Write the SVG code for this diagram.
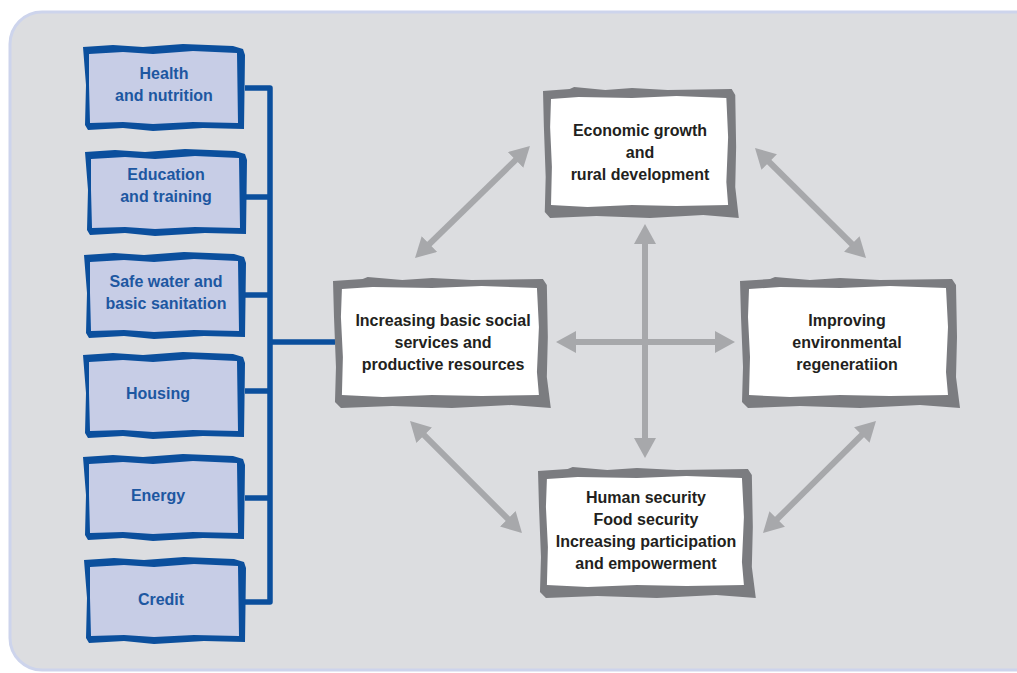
<svg xmlns="http://www.w3.org/2000/svg" width="1017" height="673" viewBox="0 0 1017 673">
<style>
.bt{font-family:"Liberation Sans",Arial,sans-serif;font-weight:bold;font-size:16px;fill:#1d57a1;text-anchor:middle}
.kt{font-family:"Liberation Sans",Arial,sans-serif;font-weight:bold;font-size:16px;fill:#231f20;text-anchor:middle}
.bo{fill:#0b4f9d}
.bi{fill:#c7cde6}
.go{fill:#7b7c80}
.gi{fill:#ffffff}
.tree{stroke:#0b4f9d;stroke-width:5.5;fill:none;stroke-linejoin:round}
.arr{stroke:#a7a8ab;stroke-width:6;fill:none;marker-start:url(#ah);marker-end:url(#ah)}
</style>
<defs>
<marker id="ah" viewBox="0 0 20 22" refX="10" refY="11" markerWidth="20" markerHeight="22" markerUnits="userSpaceOnUse" orient="auto-start-reverse">
<path d="M0,0 L20,11 L0,22 Z" fill="#a7a8ab"/>
</marker>
<g id="bbox">
<path class="bo" d="M0,2 L30,0 L60,2 L100,-1 L150,1 L160,4 L162,10 L161,84 L120,83 L70,86 L40,83 L5,85 L2,80 L3,40 Z"/>
<path class="bi" d="M6,9 L40,7 L70,9 L110,6 L154,8 L155,78 L110,77 L70,79 L40,77 L7,78 L6,40 Z"/>
</g>
<g id="wbox">
<path class="go" d="M0,4 L30,2 L35,0 L70,3 L100,1 L140,3 L212,2 L216,8 L217,60 L216,100 L220,131 L180,128 L120,131 L60,129 L8,131 L2,125 L3,90 L1,40 Z"/>
<path class="gi" d="M9,12 L40,10 L100,11 L150,9 L206,11 L208,50 L206,95 L208,118 L150,119 L100,118 L50,120 L9,118 L10,80 L8,40 Z"/>
</g>
</defs>
<rect x="10" y="12" width="1040" height="658" rx="32" fill="#dcdde0" stroke="#cdd4ec" stroke-width="3"/>
<g id="connectors">
<path class="tree" d="M245,88 L270,88 L270,602 L245,602 M245,197 L270,197 M245,295 L270,295 M245,391 L270,391 M245,498 L270,498 M270,342 L335,342"/>
<line class="arr" x1="522.8" y1="153" x2="422.2" y2="251"/>
<line class="arr" x1="762.1" y1="155" x2="858.9" y2="251"/>
<line class="arr" x1="566" y1="342" x2="725" y2="342"/>
<line class="arr" x1="645" y1="234" x2="645" y2="448"/>
<line class="arr" x1="417.1" y1="428.1" x2="514.9" y2="525.9"/>
<line class="arr" x1="868.9" y1="428" x2="770.1" y2="526"/>
</g>
<g id="health"><use href="#bbox" x="83" y="45"/><text class="bt" x="164" y="79">Health</text><text class="bt" x="164" y="101">and nutrition</text></g>
<g id="education"><use href="#bbox" x="85" y="150"/><text class="bt" x="166" y="180">Education</text><text class="bt" x="166" y="202">and training</text></g>
<g id="water"><use href="#bbox" x="84" y="253"/><text class="bt" x="166" y="287">Safe water and</text><text class="bt" x="166" y="309">basic sanitation</text></g>
<g id="housing"><use href="#bbox" x="83" y="353"/><text class="bt" x="158" y="399">Housing</text></g>
<g id="energy"><use href="#bbox" x="83" y="455"/><text class="bt" x="158" y="501">Energy</text></g>
<g id="credit"><use href="#bbox" x="84" y="558"/><text class="bt" x="161" y="605">Credit</text></g>
<g id="economic"><use href="#wbox" transform="translate(543,87) scale(0.89,1)"/><text class="kt" x="640" y="136">Economic growth</text><text class="kt" x="640" y="158">and</text><text class="kt" x="640" y="180">rural development</text></g>
<g id="social"><use href="#wbox" transform="translate(333,277) scale(0.99,1)"/><text class="kt" x="443" y="326">Increasing basic social</text><text class="kt" x="443" y="348">services and</text><text class="kt" x="443" y="370">productive resources</text></g>
<g id="environment"><use href="#wbox" transform="translate(740,277)"/><text class="kt" x="847" y="326">Improving</text><text class="kt" x="847" y="348">environmental</text><text class="kt" x="847" y="370">regeneratiion</text></g>
<g id="human"><use href="#wbox" transform="translate(538,467) scale(0.99,1)"/><text class="kt" x="646" y="503">Human security</text><text class="kt" x="646" y="525">Food security</text><text class="kt" x="646" y="547">Increasing participation</text><text class="kt" x="646" y="569">and empowerment</text></g>
</svg>
